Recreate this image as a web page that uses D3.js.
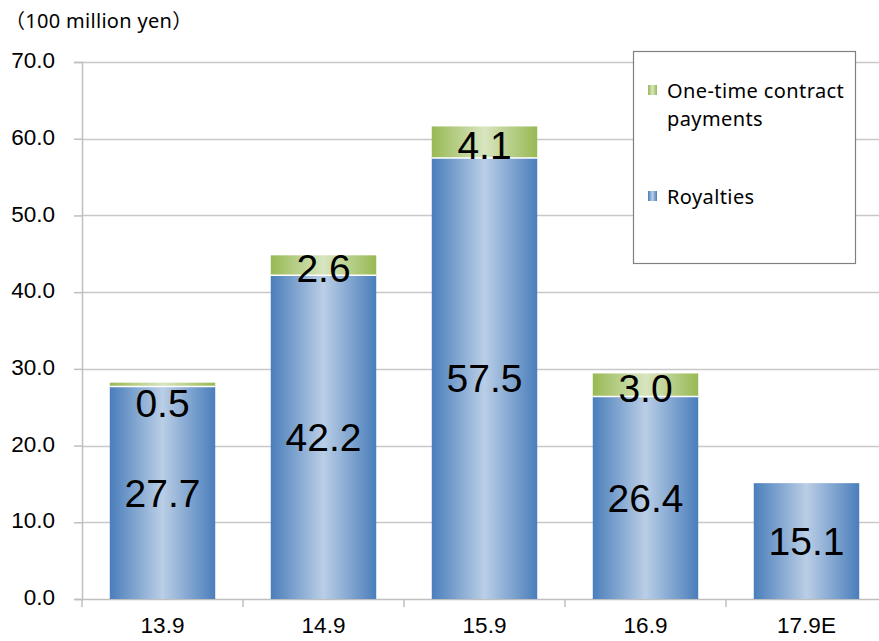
<!DOCTYPE html>
<html>
<head>
<meta charset="utf-8">
<script src="https://cdn.jsdelivr.net/npm/d3@7"></script>
<style>
  html, body { margin: 0; padding: 0; background: #fff; }
  svg { display: block; }
</style>
</head>
<body>
<svg id="chart" width="879" height="641"></svg>
<script>
// Fiscal years (September year-end; E = estimate)
const categories = ["13.9", "14.9", "15.9", "16.9", "17.9E"];
// Revenue, 100 million yen
const royalties = [27.7, 42.2, 57.5, 26.4, 15.1];
const oneTime = [0.5, 2.6, 4.1, 3.0, 0];
const yTicks = [0, 10, 20, 30, 40, 50, 60, 70];

const svg = d3.select("#chart");
const W = 879, H = 641;
const margin = { left: 82, right: -8, top: 62, bottom: 42 };
const x0 = margin.left, x1 = W - margin.right;
const yBase = H - margin.bottom;

const x = d3.scaleBand().domain(categories).range([x0, x1]).paddingInner(0.345).paddingOuter(0.1725);
const y = d3.scaleLinear().domain([0, 70]).range([yBase, margin.top]);

// gradients: dark edges, light centre
const defs = svg.append("defs");
function grad(id, edge, mid) {
  const g = defs.append("linearGradient").attr("id", id).attr("x1", "0%").attr("x2", "100%").attr("y1", "0%").attr("y2", "0%");
  g.append("stop").attr("offset", "0%").attr("stop-color", edge);
  g.append("stop").attr("offset", "50%").attr("stop-color", mid);
  g.append("stop").attr("offset", "100%").attr("stop-color", edge);
}
grad("gBlue", "#4a7ebb", "#bacee6");
grad("gGreen", "#98b954", "#d8e5bf");

const axisFont = "Arial, 'Liberation Sans', sans-serif";

// gridlines
svg.append("g").selectAll("line").data(yTicks.filter(d => d > 0)).join("line")
  .attr("x1", x0).attr("x2", W)
  .attr("y1", d => Math.round(y(d)) + 0.5).attr("y2", d => Math.round(y(d)) + 0.5)
  .attr("stroke", "#c8c8c8").attr("stroke-width", 1.5);

// y axis
const yAxis = d3.axisLeft(y).tickValues(yTicks).tickFormat(d3.format(".1f")).tickSize(8).tickPadding(19);
const gy = svg.append("g").attr("transform", `translate(${x0},0)`).call(yAxis);
gy.select(".domain").attr("stroke", "#bfbfbf").attr("stroke-width", 1.5);
gy.selectAll(".tick line").attr("stroke", "#bfbfbf").attr("stroke-width", 1.5);
gy.selectAll(".tick text").attr("font-family", axisFont).attr("font-size", 22.5).attr("fill", "#000").attr("dy", "0.25em");

// x axis
const xAxis = d3.axisBottom(x).tickSize(0).tickPadding(18);
const gx = svg.append("g").attr("transform", `translate(0,${yBase})`).call(xAxis);
gx.select(".domain").attr("stroke", "#bfbfbf").attr("stroke-width", 1.5);
gx.selectAll(".tick text").attr("font-family", axisFont).attr("font-size", 22.5).attr("fill", "#000");
// category separators
const step = x.step();
svg.append("g").selectAll("line").data(d3.range(categories.length + 1)).join("line")
  .attr("x1", i => x0 + i * step).attr("x2", i => x0 + i * step)
  .attr("y1", yBase).attr("y2", yBase + 8)
  .attr("stroke", "#bfbfbf").attr("stroke-width", 1.5);

// bars
const data = categories.map((c, i) => ({ c, r: royalties[i], o: oneTime[i] }));
const bars = svg.append("g");
bars.selectAll("rect.roy").data(data).join("rect").attr("class", "roy")
  .attr("x", d => x(d.c)).attr("width", x.bandwidth())
  .attr("y", d => y(d.r)).attr("height", d => y(0) - y(d.r))
  .attr("fill", "url(#gBlue)");
bars.selectAll("rect.one").data(data.filter(d => d.o > 0)).join("rect").attr("class", "one")
  .attr("x", d => x(d.c)).attr("width", x.bandwidth())
  .attr("y", d => y(d.r + d.o)).attr("height", d => y(d.r) - y(d.r + d.o))
  .attr("fill", "url(#gGreen)");
// white seam between segments
bars.selectAll("line.seam").data(data.filter(d => d.o > 0)).join("line").attr("class", "seam")
  .attr("x1", d => x(d.c)).attr("x2", d => x(d.c) + x.bandwidth())
  .attr("y1", d => y(d.r)).attr("y2", d => y(d.r))
  .attr("stroke", "#fff").attr("stroke-width", 1.5);

// value labels
svg.append("g").selectAll("text").data(data).join("text")
  .attr("x", d => x(d.c) + x.bandwidth() / 2)
  .attr("y", d => (y(0) + y(d.r)) / 2)
  .attr("dy", "0.36em")
  .attr("text-anchor", "middle")
  .attr("font-family", axisFont).attr("font-size", 39).attr("fill", "#000")
  .text(d => d3.format(".1f")(d.r));
// small segments get their label just below the seam
svg.append("g").selectAll("text").data(data.filter(d => d.o > 0)).join("text")
  .attr("x", d => x(d.c) + x.bandwidth() / 2)
  .attr("y", d => {
    const top = y(d.r + d.o), seam = y(d.r);
    return (seam - top) < 10 ? seam + 16 : (seam + top) / 2 + 3;
  })
  .attr("dy", "0.36em")
  .attr("text-anchor", "middle")
  .attr("font-family", axisFont).attr("font-size", 39).attr("fill", "#000")
  .text(d => d3.format(".1f")(d.o));

// unit title
svg.append("text").attr("x", 5).attr("y", 28)
  .attr("font-family", "'Noto Sans', 'Noto Sans CJK JP', sans-serif").attr("font-size", 20).attr("letter-spacing", 0.3).attr("fill", "#000")
  .text("（100 million yen）");

// legend
const lg = svg.append("g");
lg.append("rect").attr("x", 633.5).attr("y", 51.5).attr("width", 222).attr("height", 212)
  .attr("fill", "#fff").attr("stroke", "#808080").attr("stroke-width", 1.2);
const legendFont = "'Noto Sans', 'Open Sans', sans-serif";
const legendItems = [
  { lines: ["One-time contract", "payments"], fill: "url(#gGreen)", y: 98 },
  { lines: ["Royalties"], fill: "url(#gBlue)", y: 204 }
];
const li = lg.selectAll("g.item").data(legendItems).join("g").attr("class", "item");
li.append("rect").attr("x", 648).attr("y", d => d.y - 13).attr("width", 9).attr("height", 10).attr("fill", d => d.fill);
li.each(function (d) {
  d3.select(this).selectAll("text").data(d.lines).join("text")
    .attr("x", 667).attr("y", (t, i) => d.y + i * 28)
    .attr("font-family", legendFont).attr("font-size", 20).attr("letter-spacing", 0.4).attr("fill", "#000")
    .text(t => t);
});
</script>
</body>
</html>
